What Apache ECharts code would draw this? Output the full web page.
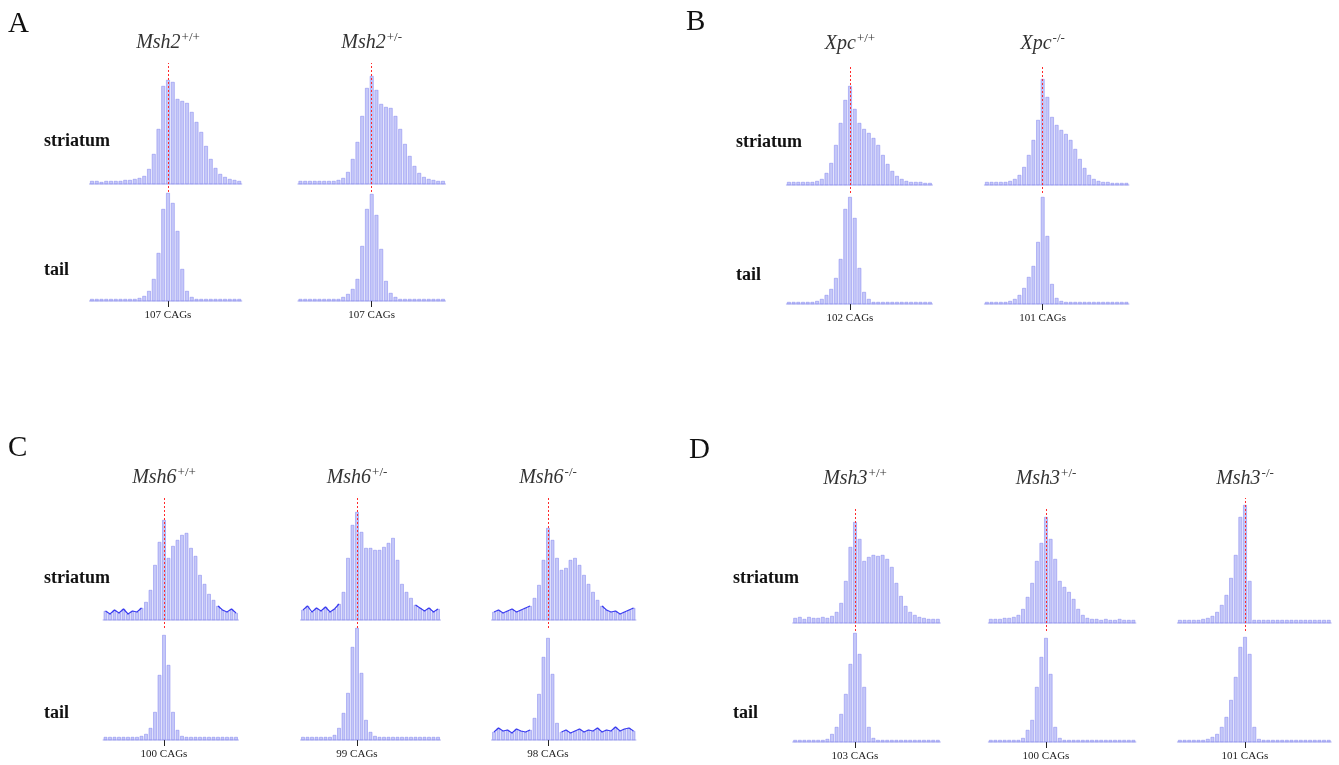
<!DOCTYPE html>
<html>
<head>
<meta charset="utf-8">
<script src="https://cdn.jsdelivr.net/npm/echarts@6/dist/echarts.min.js"></script>
<style>
  html, body { margin: 0; padding: 0; background: #fff; }
  #chart { width: 1339px; height: 765px; }
</style>
</head>
<body>
<div id="chart"></div>
<script>
// peak heights, one value per CAG repeat (relative fluorescence)
// A: Msh2
const msh2WtStr  = [3,3,2,3,3,3,3,4,4,5,6,8,15,30,55,98,104,102,85,83,81,72,62,52,38,25,16,10,7,5,4,3];
const msh2WtTail = [2,2,2,2,2,2,2,2,2,2,3,5,10,22,48,92,108,98,70,32,10,4,2,2,2,2,2,2,2,2,2,2];
const msh2HetStr  = [3,3,3,3,3,3,3,3,4,6,12,25,42,68,96,108,94,80,77,76,68,55,40,28,18,11,7,5,4,3,3];
const msh2HetTail = [2,2,2,2,2,2,2,2,2,4,7,12,22,55,92,107,86,52,20,8,4,2,2,2,2,2,2,2,2,2,2];
// B: Xpc
const xpcWtStr  = [3,3,3,3,3,3,4,6,12,22,40,62,85,99,76,62,56,52,47,40,30,21,14,9,6,4,3,3,3,2,2];
const xpcWtTail = [2,2,2,2,2,2,3,5,9,15,26,45,95,107,86,36,12,5,2,2,2,2,2,2,2,2,2,2,2,2,2];
const xpcKoStr  = [3,3,3,3,3,4,6,10,18,30,45,65,106,88,68,60,55,51,45,36,26,17,10,6,4,3,3,2,2,2,2];
const xpcKoTail = [2,2,2,2,2,3,5,9,16,27,38,62,107,68,20,6,3,2,2,2,2,2,2,2,2,2,2,2,2,2,2];
// C: Msh6
const msh6WtStr  = [9,6,10,7,11,6,9,8,12,18,30,55,78,100,62,74,80,85,87,72,64,45,36,26,20,14,10,8,11,7];
const msh6WtTail = [3,3,3,3,3,3,3,3,4,6,12,28,65,105,75,28,10,4,3,3,3,3,3,3,3,3,3,3,3,3];
const msh6HetStr  = [10,14,8,12,9,13,8,11,16,28,62,95,108,88,72,72,70,70,73,77,82,60,36,28,22,15,12,9,12,8,11];
const msh6HetTail = [3,3,3,3,3,3,3,5,12,27,47,93,112,67,20,8,4,3,3,3,3,3,3,3,3,3,3,3,3,3,3];
const msh6KoStr  = [8,10,7,9,11,8,10,12,14,22,35,60,92,80,62,50,52,60,62,55,45,36,28,20,14,10,8,9,6,8,10,12];
const msh6KoTail = [8,12,9,10,7,11,9,8,10,22,46,83,102,66,17,8,10,7,9,11,8,10,9,12,8,10,9,13,9,11,12,9];
// D: Msh3
const msh3WtStr  = [5,6,4,6,5,5,6,5,7,11,20,42,76,101,84,62,66,68,67,68,64,56,40,27,17,11,8,6,5,4,4,4];
const msh3WtTail = [2,2,2,2,2,2,2,3,8,15,28,48,78,109,88,55,15,4,2,2,2,2,2,2,2,2,2,2,2,2,2,2];
const msh3HetStr  = [4,4,4,5,5,6,8,14,26,40,62,80,106,84,64,42,36,31,24,14,8,5,4,4,3,4,3,3,4,3,3,3];
const msh3HetTail = [2,2,2,2,2,2,2,4,12,22,55,85,104,68,15,4,2,2,2,2,2,2,2,2,2,2,2,2,2,2,2,2];
const msh3KoStr  = [3,3,3,3,3,4,5,7,11,18,28,45,68,106,118,42,3,3,3,3,3,3,3,3,3,3,3,3,3,3,3,3,3];
const msh3KoTail = [2,2,2,2,2,2,3,5,8,15,25,42,65,95,105,88,15,3,2,2,2,2,2,2,2,2,2,2,2,2,2,2,2];

// modal repeat (red line) for each mouse and index of that repeat in the arrays
const modalCAG = [107, 107, 102, 101, 100, 99, 98, 103, 100, 101];
const modalIdx = [16, 15, 13, 12, 13, 12, 12, 13, 12, 14];

const genotypes = [
  ['Msh2', '+/+'], ['Msh2', '+/-'], ['Xpc', '+/+'], ['Xpc', '-/-'],
  ['Msh6', '+/+'], ['Msh6', '+/-'], ['Msh6', '-/-'],
  ['Msh3', '+/+'], ['Msh3', '+/-'], ['Msh3', '-/-']
];
const striatum = [msh2WtStr, msh2HetStr, xpcWtStr, xpcKoStr, msh6WtStr, msh6HetStr, msh6KoStr, msh3WtStr, msh3HetStr, msh3KoStr];
const tail = [msh2WtTail, msh2HetTail, xpcWtTail, xpcKoTail, msh6WtTail, msh6HetTail, msh6KoTail, msh3WtTail, msh3HetTail, msh3KoTail];
const noisyStr = [false, false, false, false, true, true, true, false, false, false];
const noisyTail = [false, false, false, false, false, false, true, false, false, false];

// layout: x of red line, px per repeat, red line top, striatum baseline, tail baseline, title y
const layout = [
  { x: 168,    sp: 4.75, top: 63,  sb: 184, tb: 301, ty: 42 },
  { x: 371.7,  sp: 4.75, top: 63,  sb: 184, tb: 301, ty: 42 },
  { x: 850,    sp: 4.7,  top: 67,  sb: 185, tb: 304, ty: 43 },
  { x: 1042.7, sp: 4.65, top: 67,  sb: 185, tb: 304, ty: 43 },
  { x: 164,    sp: 4.5,  top: 497, sb: 620, tb: 740, ty: 477 },
  { x: 357,    sp: 4.5,  top: 497, sb: 620, tb: 740, ty: 477 },
  { x: 548,    sp: 4.5,  top: 497, sb: 620, tb: 740, ty: 477 },
  { x: 855,    sp: 4.6,  top: 508, sb: 623, tb: 742, ty: 478 },
  { x: 1046,   sp: 4.6,  top: 508, sb: 623, tb: 742, ty: 478 },
  { x: 1245,   sp: 4.65, top: 498, sb: 623, tb: 742, ty: 478 }
];

const SERIF = '"Liberation Serif", "DejaVu Serif", serif';
const PEAK_FILL = 'rgba(178,181,246,0.75)';
const PEAK_EDGE = '#8083ef';

const chart = echarts.init(document.getElementById('chart'));

const grids = [], xAxes = [], yAxes = [], series = [], graphics = [];

function addTrace(k, data, isTail, noisy) {
  const L = layout[k];
  const m = modalIdx[k], modal = modalCAG[k], n = data.length;
  const first = modal - m;
  const gi = grids.length;
  const strH = L.sb - L.top;
  if (isTail) {
    grids.push({ left: L.x - (m + 0.5) * L.sp, width: n * L.sp, top: L.tb - 118, height: 118 });
  } else {
    grids.push({ left: L.x - (m + 0.5) * L.sp, width: n * L.sp, top: L.top, height: strH + 8 });
  }
  xAxes.push({
    type: 'value', gridIndex: gi, min: first - 0.5, max: first - 0.5 + n,
    splitLine: { show: false },
    axisLine: { show: true, onZero: true, lineStyle: { color: '#c4c6f4', width: 1.5 } },
    axisTick: isTail
      ? { show: true, customValues: [modal], length: 6, lineStyle: { color: '#222', width: 1 } }
      : { show: false },
    axisLabel: isTail
      ? { show: true, customValues: [modal], margin: 9, formatter: v => v + ' CAGs',
          fontFamily: SERIF, fontSize: 11, color: '#222' }
      : { show: false }
  });
  yAxes.push({
    type: 'value', gridIndex: gi, show: false,
    min: isTail ? 0 : -8, max: isTail ? 118 : strH
  });
  const pts = data.map((v, i) => [first + i, v]);
  const s = {
    type: 'bar', xAxisIndex: gi, yAxisIndex: gi, data: pts,
    barWidth: L.sp * 0.78,
    itemStyle: { color: PEAK_FILL, borderColor: PEAK_EDGE, borderWidth: 0.5 },
    silent: true
  };
  if (!isTail) {
    s.markLine = {
      symbol: 'none', silent: true, label: { show: false },
      lineStyle: { color: '#ff2b2b', type: [2, 2], width: 1 },
      data: [{ xAxis: modal }]
    };
  }
  series.push(s);
  if (noisy) {
    series.push({
      type: 'line', xAxisIndex: gi, yAxisIndex: gi, symbol: 'none', silent: true,
      data: data.map((v, i) => [first + i, v <= 16 ? v : null]),
      lineStyle: { color: '#3a3cf0', width: 1.2 }
    });
  }
}

for (let k = 0; k < genotypes.length; k++) {
  addTrace(k, striatum[k], false, noisyStr[k]);
  addTrace(k, tail[k], true, noisyTail[k]);
  const L = layout[k];
  graphics.push({
    type: 'text', x: L.x, y: L.ty, silent: true,
    style: {
      text: '{g|' + genotypes[k][0] + '}{s|' + genotypes[k][1] + '}',
      align: 'center', verticalAlign: 'middle',
      rich: {
        g: { fontFamily: SERIF, fontStyle: 'italic', fontSize: 20, fill: '#333',
             verticalAlign: 'bottom', lineHeight: 22 },
        s: { fontFamily: SERIF, fontSize: 13, fill: '#333', verticalAlign: 'bottom',
             lineHeight: 14, padding: [0, 0, 9, 1] }
      }
    }
  });
}

// panel letters
[['A', 8, 10], ['B', 686, 8], ['C', 8, 434], ['D', 689, 436]].forEach(([t, x, y]) => {
  graphics.push({ type: 'text', x, y, silent: true,
    style: { text: t, fontFamily: SERIF, fontSize: 29, fill: '#111' } });
});

// row labels
[['striatum', 44, 141], ['tail', 44, 270], ['striatum', 736, 142], ['tail', 736, 275],
 ['striatum', 44, 578], ['tail', 44, 713], ['striatum', 733, 578], ['tail', 733, 713]]
  .forEach(([t, x, y]) => {
    graphics.push({ type: 'text', x, y, silent: true,
      style: { text: t, fontFamily: SERIF, fontSize: 18, fontWeight: 'bold', fill: '#111',
               verticalAlign: 'middle' } });
  });

chart.setOption({
  animation: false,
  backgroundColor: '#fff',
  grid: grids,
  xAxis: xAxes,
  yAxis: yAxes,
  series: series,
  graphic: graphics
});
</script>
</body>
</html>
